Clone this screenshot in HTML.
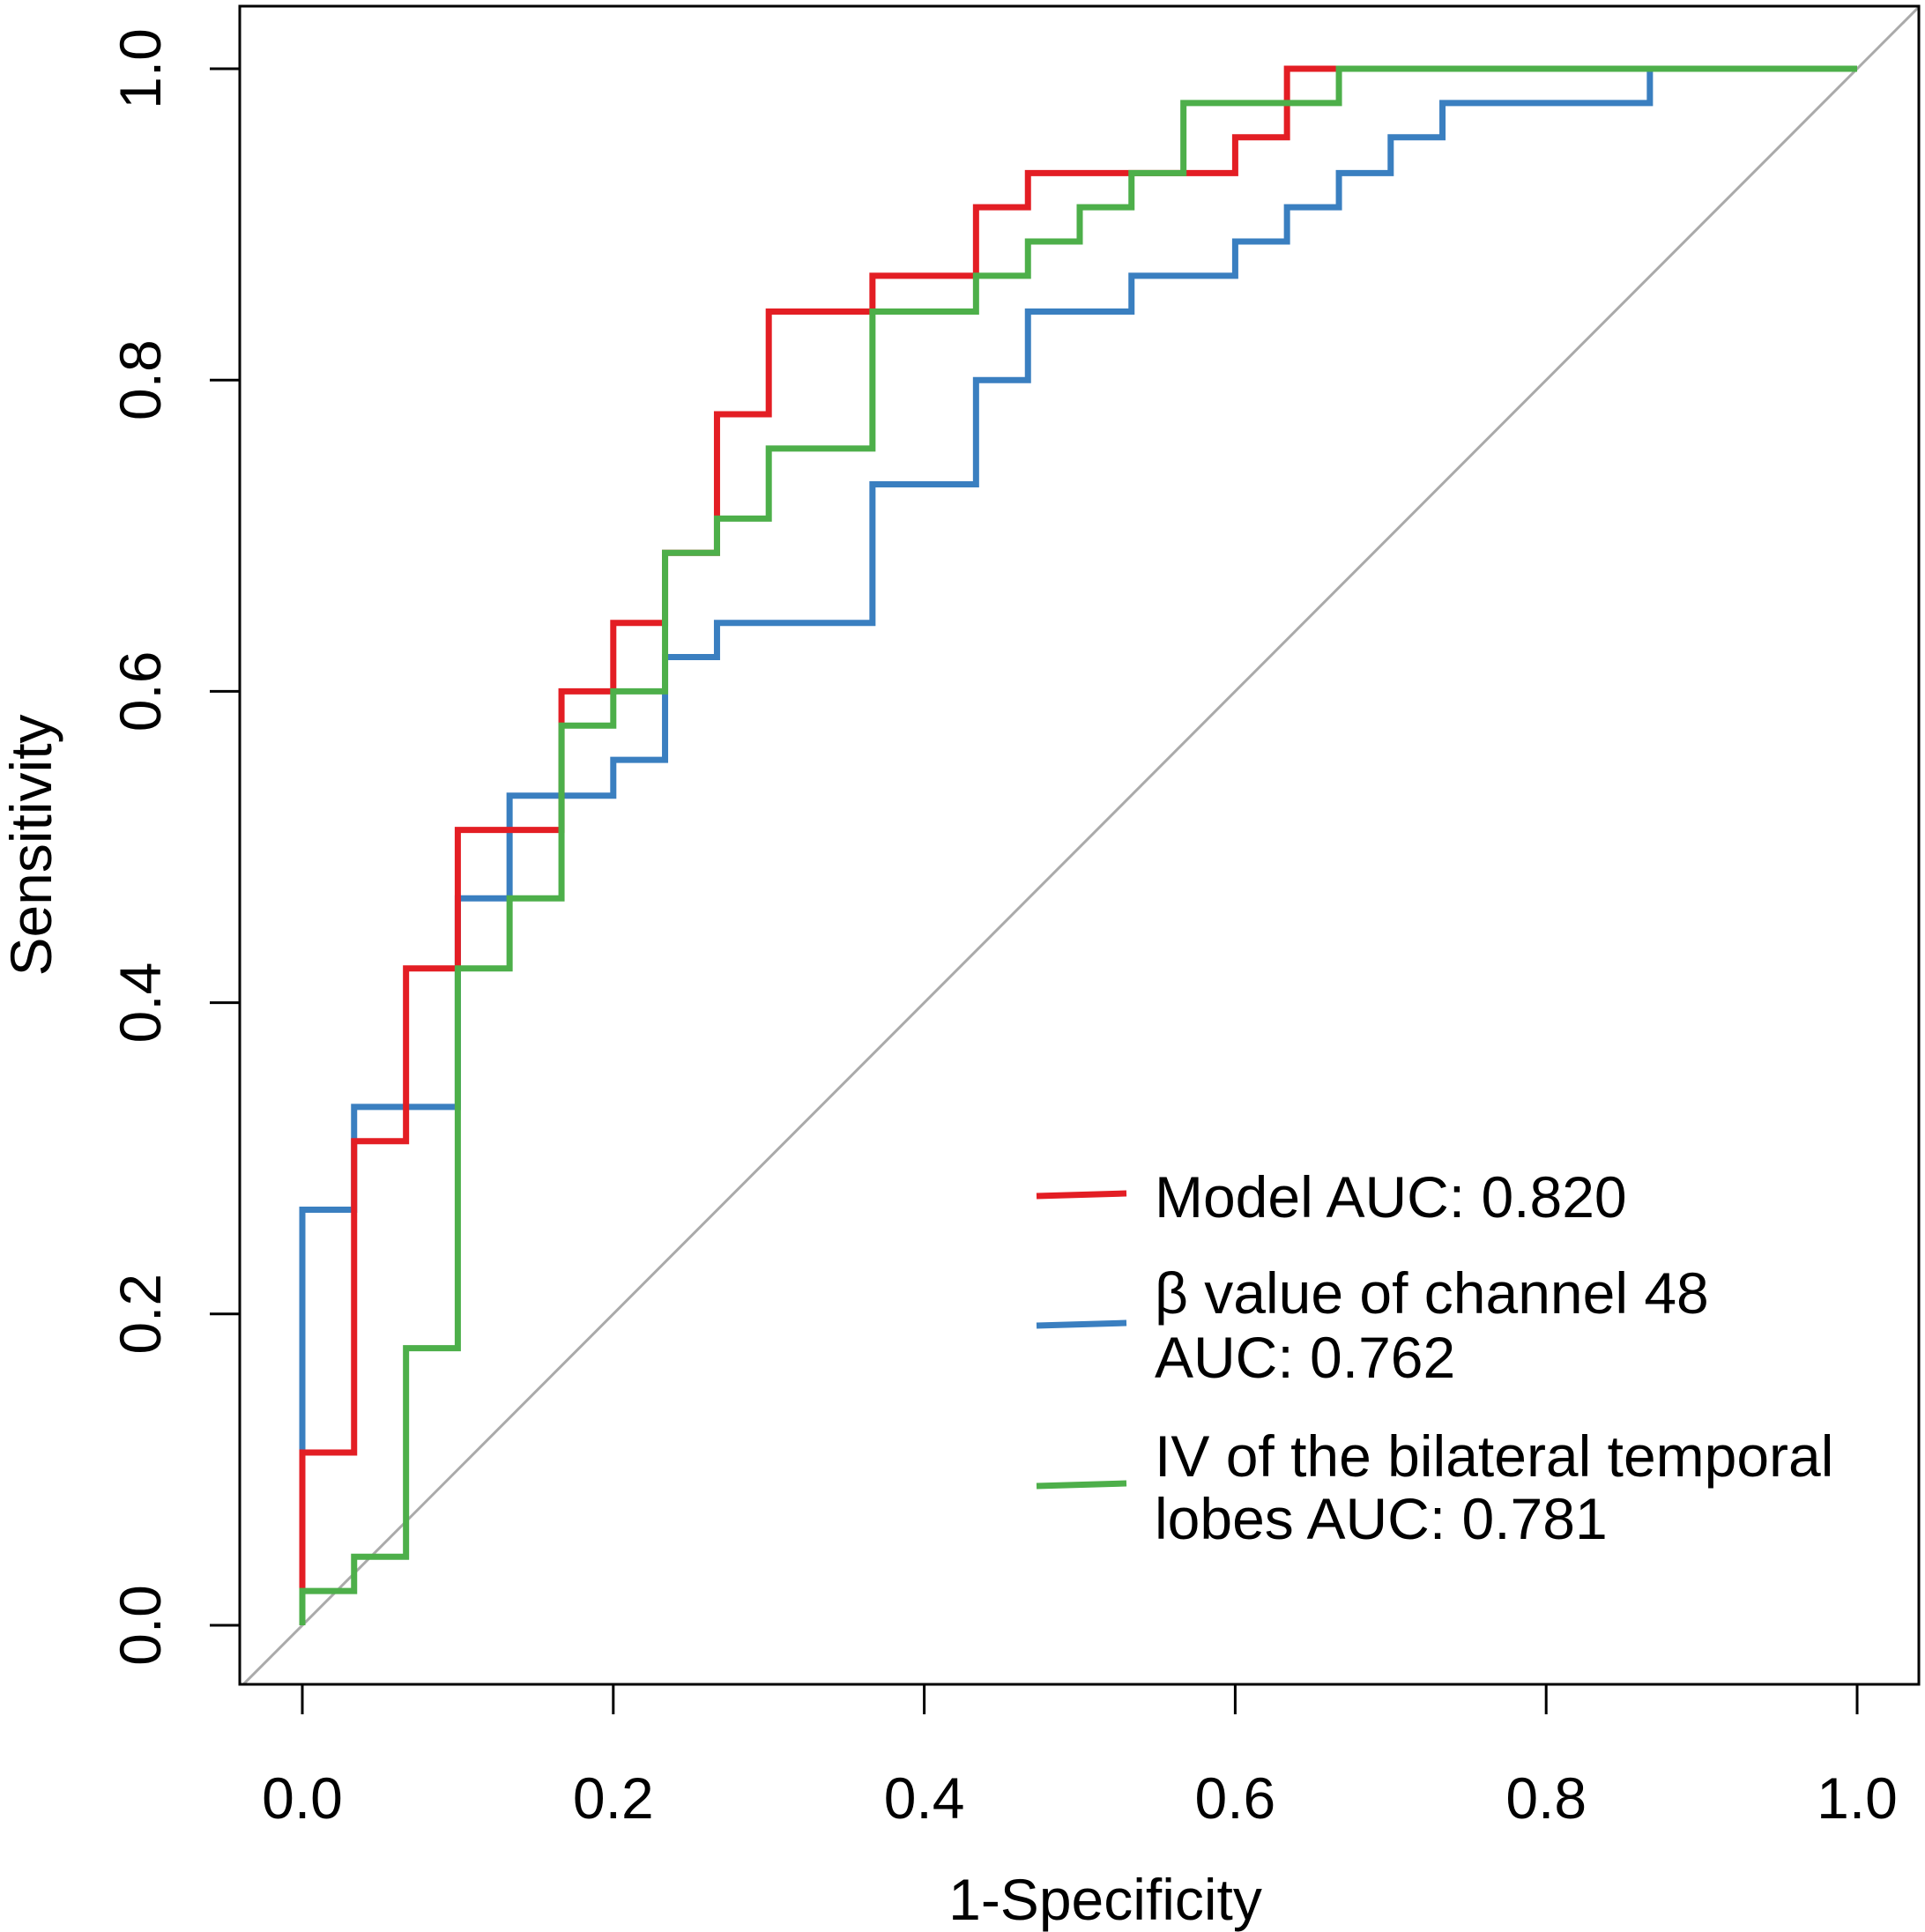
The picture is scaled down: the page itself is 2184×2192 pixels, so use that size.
<!DOCTYPE html>
<html><head><meta charset="utf-8"><style>
html,body{margin:0;padding:0;background:#fff;}
svg{display:block;font-family:"Liberation Sans",Arial,sans-serif;}
</style></head><body>
<svg id="chart" width="2184" height="2192" viewBox="0 0 2184 2192" xmlns="http://www.w3.org/2000/svg">
<defs><clipPath id="clip"><rect x="272" y="7" width="1905" height="1904"/></clipPath></defs>
<g id="plot"></g>
</svg>
<script>
const xTicks=[0,0.2,0.4,0.6,0.8,1.0];
const yTicks=[0,0.2,0.4,0.6,0.8,1.0];
const tickLabels=["0.0","0.2","0.4","0.6","0.8","1.0"];
const redX=[0,0.0333,0.0667,0.1,0.1667,0.2,0.2333,0.2667,0.3,0.3667,0.4333,0.4667,0.6,0.6333,1];
const redY=[0.111,0.311,0.422,0.511,0.6,0.644,0.689,0.778,0.844,0.867,0.911,0.933,0.956,1.0,1.0];
const blueX=[0,0.0333,0.1,0.1333,0.2,0.2333,0.2667,0.3667,0.4333,0.4667,0.5333,0.6,0.6333,0.6667,0.7,0.7333,0.8667,1];
const blueY=[0.267,0.333,0.467,0.533,0.556,0.622,0.644,0.733,0.8,0.844,0.867,0.889,0.911,0.933,0.956,0.978,1.0,1.0];
const greenX=[0,0.0333,0.0667,0.1,0.1333,0.1667,0.2,0.2333,0.2667,0.3,0.3667,0.4333,0.4667,0.5,0.5333,0.5667,0.6667,1];
const greenY=[0.022,0.044,0.178,0.422,0.467,0.578,0.6,0.689,0.711,0.756,0.844,0.867,0.889,0.911,0.933,0.978,1.0,1.0];
const legendLabels=[["Model AUC: 0.820"],["β value of channel 48","AUC: 0.762"],["IV of the bilateral temporal","lobes AUC: 0.781"]];

const NS="http://www.w3.org/2000/svg";
const g=document.getElementById('plot');
const X0=343,X1=2107,Y0=1844,Y1=78;
const sx=v=>X0+(X1-X0)*v, sy=v=>Y0-(Y0-Y1)*v;
function mk(tag,attrs,parent){const e=document.createElementNS(NS,tag);for(const k in attrs)e.setAttribute(k,attrs[k]);(parent||g).appendChild(e);return e;}

const diag=mk('line',{x1:sx(-0.1),y1:sy(-0.1),x2:sx(1.1),y2:sy(1.1),stroke:'#aaaaaa','stroke-width':3,'clip-path':'url(#clip)'});



function curve(xs,ys,color,name){
  let d=`M${sx(0)} ${sy(0)}`;
  for(let i=0;i<xs.length;i++){d+=` H${sx(xs[i])} V${sy(ys[i])}`;}
  const p=mk('path',{d:d,fill:'none',stroke:color,'stroke-width':7,'stroke-linejoin':'miter'});
  
  
}
curve(blueX,blueY,'#3a7fc0','curve-beta-channel-48');
curve(redX,redY,'#e31e24','curve-model');
curve(greenX,greenY,'#4daf4a','curve-iv-temporal');

const box=mk('rect',{x:272,y:7,width:1905,height:1904,fill:'none',stroke:'#000','stroke-width':3});



const xa=mk('line',{x1:sx(0),y1:1911,x2:sx(1),y2:1911,stroke:'#000','stroke-width':3});


xTicks.forEach((v,i)=>{
  const t=mk('line',{x1:sx(v),y1:1911,x2:sx(v),y2:1945,stroke:'#000','stroke-width':3});
  
  
  const l=mk('text',{x:sx(v),y:2063,'font-size':66,'text-anchor':'middle',fill:'#000'});
  l.textContent=tickLabels[i];
  
  
});
yTicks.forEach((v,i)=>{
  const t=mk('line',{x1:272,y1:sy(v),x2:238,y2:sy(v),stroke:'#000','stroke-width':3});
  
  
  const l=mk('text',{x:0,y:0,'font-size':66,'text-anchor':'middle',fill:'#000',transform:`translate(182 ${sy(v)}) rotate(-90)`});
  l.textContent=tickLabels[i];
  
  
});
const xt=mk('text',{x:1254,y:2178,'font-size':66,'text-anchor':'middle',fill:'#000'});
xt.textContent='1-Specificity';


const yt=mk('text',{x:0,y:0,'font-size':66,'text-anchor':'middle',fill:'#000',transform:'translate(58 959) rotate(-90)'});
yt.textContent='Sensitivity';



const legColors=['#e31e24','#3a7fc0','#4daf4a'];
const legLineY=[1355,1502,1684];
const legTextY=[[1381],[1490,1563],[1675,1746]];
legendLabels.forEach((lines,i)=>{
  const ln=mk('line',{x1:1176,y1:legLineY[i]+2,x2:1278,y2:legLineY[i]-1,stroke:legColors[i],'stroke-width':7});
  
  
  lines.forEach((s,j)=>{
    const t=mk('text',{x:1310,y:legTextY[i][j],'font-size':66,fill:'#000'});
    t.textContent=s;
    
    
  });
});
</script>
</body></html>
